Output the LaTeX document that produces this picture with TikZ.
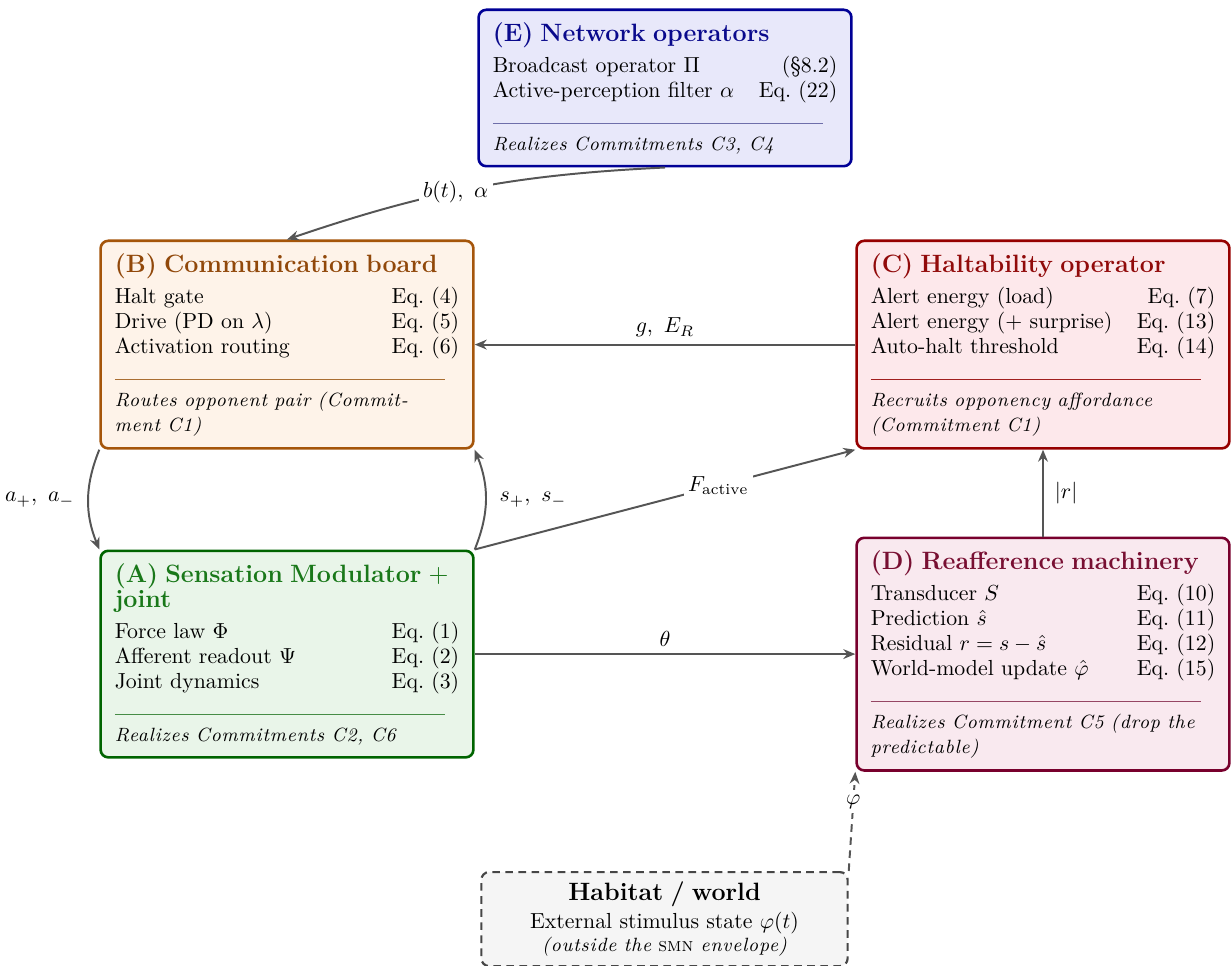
\documentclass[tikz,border=0pt]{standalone}
\usepackage{fontspec}
\usetikzlibrary{arrows.meta}
\newfontfamily\noteit{lmroman9-italic.otf}[LetterSpace=4.5]
\definecolor{cE}{RGB}{0,0,150}\definecolor{fE}{RGB}{232,232,250}\definecolor{tE}{RGB}{10,10,140}\definecolor{rE}{RGB}{110,110,170}
\definecolor{cB}{RGB}{165,85,10}\definecolor{fB}{RGB}{254,243,233}\definecolor{tB}{RGB}{145,72,10}\definecolor{rB}{RGB}{170,110,50}
\definecolor{cC}{RGB}{150,0,0}\definecolor{fC}{RGB}{253,232,235}\definecolor{tC}{RGB}{145,10,10}\definecolor{rC}{RGB}{160,30,30}
\definecolor{cA}{RGB}{0,100,0}\definecolor{fA}{RGB}{233,245,233}\definecolor{tA}{RGB}{25,120,25}\definecolor{rA}{RGB}{70,140,70}
\definecolor{cD}{RGB}{120,0,45}\definecolor{fD}{RGB}{249,233,239}\definecolor{tD}{RGB}{120,15,50}\definecolor{rD}{RGB}{150,70,100}
\definecolor{cH}{RGB}{70,70,70}\definecolor{fH}{RGB}{245,245,245}
\definecolor{linec}{RGB}{85,85,85}
\newcommand{\bxtitle}[2]{{\fontsize{11.5}{13}\selectfont\bfseries\color{#1}#2}\\[3pt]}
\newcommand{\bxrule}[1]{\\[0.7pt]{\color{#1}\rule{0.96\linewidth}{0.5pt}}\\[0.3pt]}
\newcommand{\bxnote}[1]{{\noteit\fontsize{8.8}{11.5}\selectfont #1}}
\tikzset{
  box/.style={draw, rounded corners=3.5pt, line width=1.2pt, text width=158pt,
    inner xsep=6.5pt, inner ysep=5.7pt, align=left, anchor=north west,
    font=\fontsize{10}{11.5}\selectfont},
  conn/.style={draw=linec, line width=0.9pt, -{Stealth[length=5.5pt,width=4.5pt]}},
  lab/.style={fill=white, inner sep=2pt, text=black, font=\fontsize{10}{12}\selectfont},
  hbox/.style={draw=cH, fill=fH, rounded corners=3.5pt, line width=1pt,
    dash pattern=on 3.5pt off 2.5pt, text width=155pt, inner xsep=6.5pt,
    inner ysep=4.3pt, align=center, anchor=north, font=\fontsize{10}{11.5}\selectfont},
}
\begin{document}
\begin{tikzpicture}[x=0.4587pt,y=-0.4587pt]
\useasboundingbox (0,0) rectangle (1231,966);

\node[box, draw=cE, fill=fE] (E) at (477.3,8.5) {%
\bxtitle{tE}{(E) Network operators}%
Broadcast operator $\Pi$\hfill(\S8.2)\\
Active-perception filter $\alpha$\hfill Eq.~(22)%
\bxrule{rE}%
\bxnote{Realizes Commitments C3, C4}};

\node[box, draw=cB, fill=fB] (B) at (99.3,239.5) {%
\bxtitle{tB}{(B) Communication board}%
Halt gate\hfill Eq.~(4)\\
Drive (PD on $\lambda$)\hfill Eq.~(5)\\
Activation routing\hfill Eq.~(6)%
\bxrule{rB}%
\bxnote{Routes opponent pair (Commit-\\ment C1)}};

\node[box, draw=cC, fill=fC] (C) at (855.3,239.5) {%
\bxtitle{tC}{(C) Haltability operator}%
Alert energy (load)\hfill Eq.~(7)\\
Alert energy ($+$ surprise)\hfill Eq.~(13)\\
Auto-halt threshold\hfill Eq.~(14)%
\bxrule{rC}%
\bxnote{Recruits opponency affordance\\(Commitment C1)}};

\node[box, draw=cA, fill=fA] (A) at (99.3,549.5) {%
\bxtitle{tA}{(A) Sensation Modulator $+$\\joint}%
Force law $\Phi$\hfill Eq.~(1)\\
Afferent readout $\Psi$\hfill Eq.~(2)\\
Joint dynamics\hfill Eq.~(3)%
\bxrule{rA}%
\bxnote{Realizes Commitments C2, C6}};

\node[box, draw=cD, fill=fD] (D) at (855.3,536.5) {%
\bxtitle{tD}{(D) Reafference machinery}%
Transducer $S$\hfill Eq.~(10)\\
Prediction $\hat{s}$\hfill Eq.~(11)\\
Residual $r=s-\hat{s}$\hfill Eq.~(12)\\
World-model update $\hat{\varphi}$\hfill Eq.~(15)%
\bxrule{rD}%
\bxnote{Realizes Commitment C5 (drop the\\predictable)}};

\node[hbox] (H) at (664.5,871) {%
{\fontsize{11.5}{13}\selectfont\bfseries Habitat / world}\\[1.5pt]
External stimulus state $\varphi(t)$\\[-0.8pt]
{\noteit\fontsize{8.8}{11}\selectfont (outside the {\normalfont\scshape smn} envelope)}};

\draw[conn] (E.south) to[bend right=8] node[lab,pos=0.55] {$b(t),\ \alpha$} (B.north);
\draw[conn] (C.west) -- node[lab,above=1pt,fill=none] {$g,\ E_R$} (B.east);
\draw[conn] (B.south west) to[bend right=22] node[lab,left=4pt,fill=none] {$a_+,\ a_-$} (A.north west);
\draw[conn] (A.north east) to[bend right=22] node[lab,right=4pt,fill=none] {$s_+,\ s_-$} (B.south east);
\draw[conn] (A.north east) -- node[lab,pos=0.64] {$F_{\mathrm{active}}$} (C.south west);
\draw[conn] (A.east) -- node[lab,above=1pt,fill=none] {$\theta$} (A.east -| D.west);
\draw[conn] (D.north) -- node[lab,right=3pt,fill=none] {$|r|$} (C.south);
\draw[conn, dash pattern=on 3.5pt off 2.5pt] (H.north east) -- node[lab,pos=0.7] {$\varphi$} (D.south west);
\end{tikzpicture}
\end{document}
